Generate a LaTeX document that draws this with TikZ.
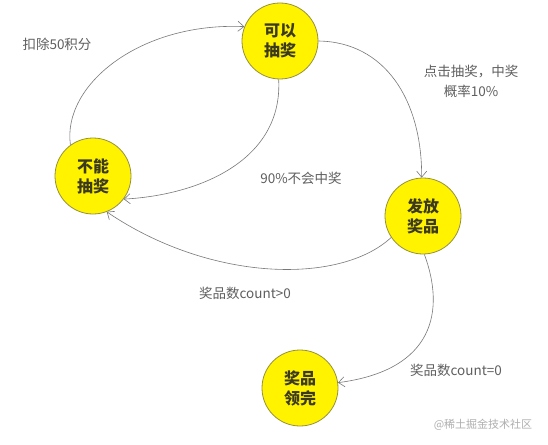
\documentclass[tikz,border=0pt]{standalone}
\usepackage{fontspec}
\setmainfont{Noto Sans CJK SC}
\usetikzlibrary{arrows.meta}
\definecolor{stateyellow}{RGB}{255,243,0}
\definecolor{stateborder}{RGB}{150,145,60}
\definecolor{statetext}{RGB}{60,58,30}
\definecolor{labelgray}{RGB}{95,95,95}
\definecolor{edgegray}{RGB}{120,120,120}
\definecolor{markgray}{RGB}{175,175,175}
\begin{document}
\begin{tikzpicture}[x=1pt,y=-1pt,
  state/.style={circle, draw=stateborder, line width=0.8pt, fill=stateyellow,
    minimum size=76pt, inner sep=0pt, align=center, text=statetext,
    font=\fontsize{16}{20}\selectfont\bfseries},
  lbl/.style={text=labelgray, align=center, inner sep=0pt,
    font=\fontsize{13.5}{20}\selectfont},
  edge/.style={draw=edgegray, line width=0.6pt,
    -{Straight Barb[length=6pt,width=10pt]}}]
\useasboundingbox (0,0) rectangle (548,444);
\fill[white] (0,0) rectangle (548,444);

\node[state] (a) at (280,41) {可以\\抽奖};
\node[state] (b) at (93,176) {不能\\抽奖};
\node[state] (c) at (423,216) {发放\\奖品};
\node[state] (d) at (300,388) {奖品\\领完};

\draw[edge] (b.126) .. controls (62,85) and (140,22) .. (a.158);
\draw[edge] (a.0) .. controls (385,42) and (422,100) .. (c.92);
\draw[edge] (a.-92) .. controls (283,160) and (200,195) .. (b.-37);
\draw[edge] (c.214) .. controls (340,285) and (210,282) .. (b.-69);
\draw[edge] (c.-88) .. controls (445,310) and (435,370) .. (d.8);

\node[lbl] (l1) at (57,44) {扣除50积分};
\node[lbl] (l2) at (471,81) {点击抽奖，中奖\\概率10\%};
\node[lbl] (l3) at (301,178) {90\%不会中奖};
\node[lbl] (l4) at (245,293) {奖品数count>0};
\node[lbl] (l5) at (456,370) {奖品数count=0};
\node[text=markgray, inner sep=0pt, font=\fontsize{11}{13}\selectfont] (wm) at (483,425) {@稀土掘金技术社区};
\end{tikzpicture}
\end{document}
